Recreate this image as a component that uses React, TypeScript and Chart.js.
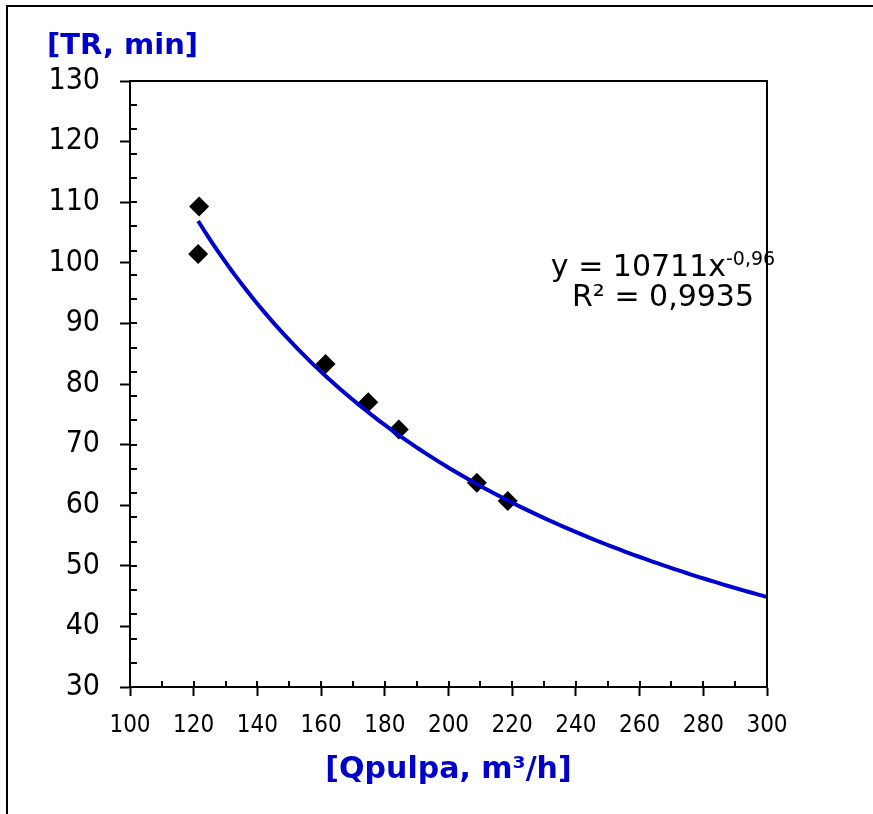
import { useEffect, useRef } from "react";
import { Chart, registerables } from "chart.js";

Chart.register(...registerables);

// ---- data ----
const qPulpa = [121.7, 121.4, 161.4, 174.8, 184.4, 208.9, 218.6];
const trMin = [109.3, 101.45, 83.3, 77.0, 72.5, 63.7, 60.7];

// power trendline shown on the chart: y = 10711 x^-0.96
const TREND_A = 10711;
const TREND_B = -0.96;
const TREND_X_START = 121.4;
const TREND_X_END = 300;

const X_MIN = 100;
const X_MAX = 300;
const X_MAJOR = 20;
const X_MINOR = 10;
const Y_MIN = 30;
const Y_MAX = 130;
const Y_MAJOR = 10;
const Y_MINOR = 4;

const Y_TITLE = "[TR, min]";
const X_TITLE = "[Qpulpa, m³/h]";
const EQ_MAIN = "y = 10711x";
const EQ_SUP = "-0,96";
const EQ_R2 = "R² = 0,9935";

const BLUE = "#0000CC";
const FONT = "DejaVu Sans";
const TICK_FONT = "DejaVu Sans Condensed";

function trendPoints() {
  const pts: { x: number; y: number }[] = [];
  const n = 120;
  for (let i = 0; i <= n; i++) {
    const x = TREND_X_START + ((TREND_X_END - TREND_X_START) * i) / n;
    pts.push({ x, y: TREND_A * Math.pow(x, TREND_B) });
  }
  return pts;
}

const decorPlugin = {
  id: "decor",
  afterDraw(chart: any) {
    const ctx = chart.ctx as CanvasRenderingContext2D;
    const { left, right, top, bottom } = chart.chartArea;
    const xs = chart.scales.x;
    const ys = chart.scales.y;
    ctx.save();
    // outer border
    ctx.strokeStyle = "#000";
    ctx.lineWidth = 2;
    ctx.strokeRect(7, 6, 900, 900);
    // top & right frame
    ctx.beginPath();
    ctx.moveTo(left, top);
    ctx.lineTo(right, top);
    ctx.lineTo(right, bottom);
    ctx.stroke();
    // minor ticks (inside)
    ctx.beginPath();
    for (let v = Y_MIN; v <= Y_MAX; v += Y_MINOR) {
      const py = Math.round(ys.getPixelForValue(v));
      ctx.moveTo(left, py);
      ctx.lineTo(left + 7, py);
    }
    for (let v = X_MIN; v <= X_MAX; v += X_MINOR) {
      const px = Math.round(xs.getPixelForValue(v));
      ctx.moveTo(px, bottom);
      ctx.lineTo(px, bottom - 6);
    }
    ctx.stroke();

    // axis titles
    ctx.fillStyle = BLUE;
    ctx.textBaseline = "alphabetic";
    ctx.textAlign = "left";
    ctx.font = `bold 29px "${FONT}"`;
    ctx.fillText(Y_TITLE, 47, 54);
    ctx.textAlign = "center";
    ctx.font = `bold 30px "${FONT}"`;
    ctx.fillText(X_TITLE, (left + right) / 2, 778);

    // equation
    ctx.fillStyle = "#000";
    ctx.textAlign = "left";
    ctx.font = `30px "${FONT}"`;
    const w1 = ctx.measureText(EQ_MAIN).width;
    ctx.font = `19px "${FONT}"`;
    const w2 = ctx.measureText(EQ_SUP).width;
    const cx = 663;
    const sx = cx - (w1 + w2) / 2;
    ctx.font = `30px "${FONT}"`;
    ctx.fillText(EQ_MAIN, sx, 276);
    ctx.font = `19px "${FONT}"`;
    ctx.fillText(EQ_SUP, sx + w1, 265);
    ctx.font = `30px "${FONT}"`;
    ctx.textAlign = "center";
    ctx.fillText(EQ_R2, cx, 306);
    ctx.restore();
  },
};

export default function App() {
  const ref = useRef<HTMLCanvasElement | null>(null);

  useEffect(() => {
    document.body.style.margin = "0";
    const canvas = ref.current;
    if (!canvas) return;
    const chart = new Chart(canvas, {
      type: "scatter",
      data: {
        datasets: [
          {
            type: "line",
            label: "trend",
            data: trendPoints(),
            borderColor: BLUE,
            borderWidth: 4,
            pointRadius: 0,
            fill: false,
            tension: 0,
          } as any,
          {
            label: "TR",
            data: qPulpa.map((x, i) => ({ x, y: trMin[i] })),
            pointStyle: "rectRot",
            pointRadius: 10,
            pointBackgroundColor: "#000",
            pointBorderColor: "#000",
            pointBorderWidth: 0,
          },
        ],
      },
      options: {
        responsive: false,
        animation: false,
        devicePixelRatio: 1,
        layout: { padding: { left: 0, top: 81, right: 106, bottom: 0 } },
        plugins: {
          legend: { display: false },
          tooltip: { enabled: false },
        },
        scales: {
          x: {
            type: "linear",
            min: X_MIN,
            max: X_MAX,
            afterFit: (s: any) => {
              s.height = 127;
            },
            ticks: {
              stepSize: X_MAJOR,
              color: "#000",
              font: { family: TICK_FONT, size: 24 },
              padding: 15,
              maxRotation: 0,
            },
            grid: {
              display: true,
              drawOnChartArea: false,
              drawTicks: true,
              tickLength: 9,
              tickWidth: 2,
              tickColor: "#000",
            },
            border: { display: true, color: "#000", width: 2 },
          },
          y: {
            type: "linear",
            min: Y_MIN,
            max: Y_MAX,
            afterFit: (s: any) => {
              s.width = 130;
            },
            ticks: {
              stepSize: Y_MAJOR,
              color: "#000",
              font: { family: TICK_FONT, size: 30 },
              padding: 20,
            },
            grid: {
              display: true,
              drawOnChartArea: false,
              drawTicks: true,
              tickLength: 10,
              tickWidth: 2,
              tickColor: "#000",
            },
            border: { display: true, color: "#000", width: 2 },
          },
        },
      },
      plugins: [decorPlugin],
    } as any);
    return () => chart.destroy();
  }, []);

  return (
    <div style={{ width: 873, height: 814, background: "#fff" }}>
      <canvas ref={ref} width={873} height={814} style={{ display: "block" }} />
    </div>
  );
}
